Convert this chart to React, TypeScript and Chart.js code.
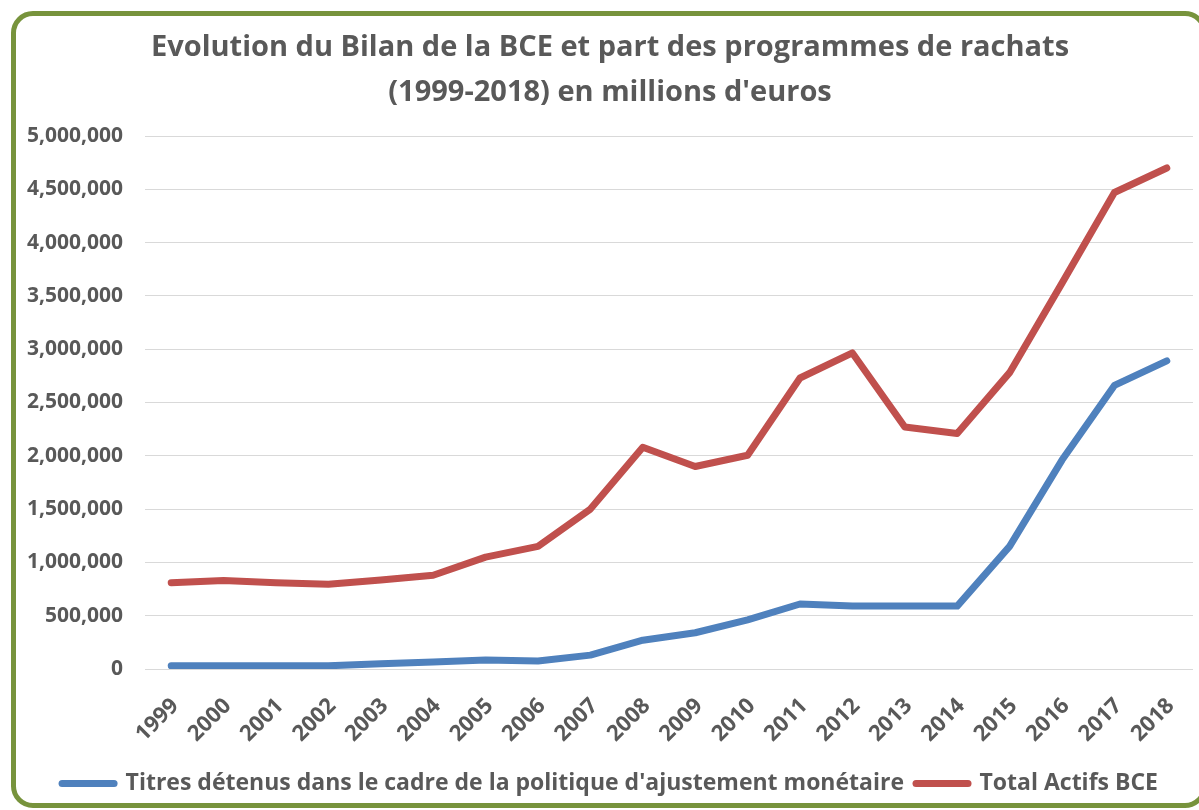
import React, { useEffect, useRef } from "react";
import { Chart, registerables } from "chart.js";

Chart.register(...registerables);

const years = [
  "1999", "2000", "2001", "2002", "2003", "2004", "2005", "2006", "2007", "2008",
  "2009", "2010", "2011", "2012", "2013", "2014", "2015", "2016", "2017", "2018",
];

const titresDetenus = [
  30000, 30000, 30000, 30000, 50000, 65000, 85000, 75000, 130000, 270000,
  340000, 460000, 610000, 590000, 590000, 590000, 1150000, 1960000, 2660000, 2890000,
];

const totalActifs = [
  810000, 830000, 810000, 795000, 835000, 880000, 1050000, 1150000, 1500000, 2080000,
  1900000, 2005000, 2730000, 2965000, 2270000, 2210000, 2780000, 3620000, 4470000, 4700000,
];

const seriesLabels = [
  "Titres détenus dans le cadre de la politique d'ajustement monétaire",
  "Total Actifs BCE",
];

const titleLines = [
  "Evolution du Bilan de la BCE et part des programmes de rachats",
  "(1999-2018) en millions d'euros",
];

const yMin = 0;
const yMax = 5000000;
const yStep = 500000;

const FONT = "'Open Sans', 'Liberation Sans', sans-serif";
const TEXT = "#595959";
const BLUE = "#4F81BD";
const RED = "#C0504D";

export default function App() {
  const ref = useRef<HTMLCanvasElement>(null);

  useEffect(() => {
    const canvas = ref.current;
    if (!canvas) return;
    const padBottom = 5;
    const chart = new Chart(canvas, {
      type: "line",
      data: {
        labels: years,
        datasets: [
          {
            label: seriesLabels[0],
            data: titresDetenus,
            borderColor: BLUE,
            backgroundColor: BLUE,
            borderWidth: 7,
            borderCapStyle: "round",
            borderJoinStyle: "round",
            pointRadius: 0,
            tension: 0,
          },
          {
            label: seriesLabels[1],
            data: totalActifs,
            borderColor: RED,
            backgroundColor: RED,
            borderWidth: 7,
            borderCapStyle: "round",
            borderJoinStyle: "round",
            pointRadius: 0,
            tension: 0,
          },
        ],
      },
      options: {
        responsive: false,
        animation: false,
        layout: { padding: { left: 27, right: 6, top: 0, bottom: padBottom } },
        plugins: {
          tooltip: { enabled: false },
          title: {
            display: true,
            text: titleLines,
            color: TEXT,
            font: { family: FONT, size: 29, weight: "bold", lineHeight: 45 / 29 },
            padding: { top: 25.5, bottom: 20.5 },
          },
          legend: {
            position: "bottom",
            labels: {
              usePointStyle: true,
              pointStyle: "line",
              pointStyleWidth: 52,
              boxHeight: 23,
              padding: 12,
              color: TEXT,
              font: { family: FONT, size: 23, weight: "bold" },
              generateLabels: (ch: any) =>
                ch.data.datasets.map((ds: any, i: number) => ({
                  text: ds.label,
                  fillStyle: ds.borderColor,
                  strokeStyle: ds.borderColor,
                  lineWidth: 7,
                  lineCap: "round",
                  pointStyle: "line",
                  hidden: false,
                  datasetIndex: i,
                  fontColor: TEXT,
                })),
            },
          },
        },
        scales: {
          x: {
            offset: true,
            grid: { display: false, drawTicks: false },
            border: { display: false },
            ticks: {
              autoSkip: false,
              maxRotation: 45,
              minRotation: 45,
              padding: 24,
              labelOffset: 4,
              color: TEXT,
              font: { family: FONT, size: 22, weight: "bold" },
            },
            afterFit: (s: any) => {
              const lh = s.chart.legend ? s.chart.legend.height : 47;
              s.height = 810 - padBottom - lh - 669;
              s.paddingLeft = 0;
              s.paddingRight = 0;
            },
          },
          y: {
            min: yMin,
            max: yMax,
            grid: { color: "#D9D9D9", lineWidth: 1, drawTicks: false },
            border: { display: false },
            ticks: {
              stepSize: yStep,
              padding: 22,
              color: TEXT,
              font: { family: FONT, size: 21, weight: "bold" },
              callback: (v: any) => Number(v).toLocaleString("en-US"),
            },
            afterFit: (s: any) => {
              s.width = 145 - 27;
            },
          },
        },
      },
    });
    return () => chart.destroy();
  }, []);

  return (
    <div
      style={{
        position: "fixed",
        left: 0,
        top: 0,
        width: 1199,
        height: 810,
        overflow: "hidden",
        background: "#fff",
      }}
    >
      <div
        style={{
          position: "absolute",
          left: 11,
          top: 11,
          width: 1196,
          height: 797,
          border: "5px solid #77933C",
          borderRadius: 22,
          boxSizing: "border-box",
        }}
      />
      <canvas
        ref={ref}
        width={1199}
        height={810}
        style={{ position: "absolute", left: 0, top: 0, display: "block" }}
      />
    </div>
  );
}
